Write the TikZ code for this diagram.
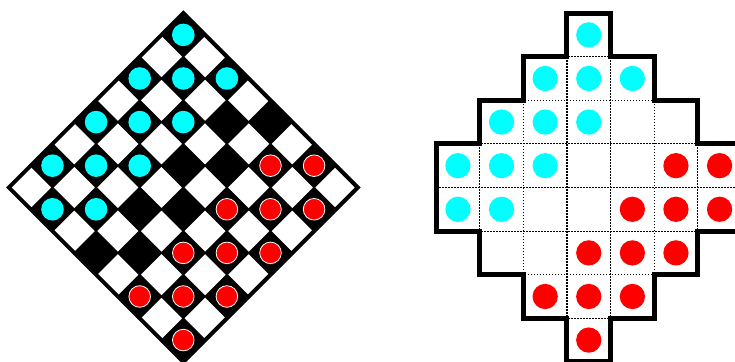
\documentclass[tikz,border=0pt]{standalone}
\usepackage{tikz}
\usetikzlibrary{calc}
\definecolor{piececyan}{RGB}{0,255,255}
\definecolor{piecered}{RGB}{255,0,0}

\begin{document}
\begin{tikzpicture}[x=43.6pt, y=43.6pt,
  lightcell/.style={fill=white, draw=black, line width=1.5pt},
  bluepiece/.style={fill=piececyan},
  redpiece/.style={fill=piecered, draw=white, line width=0.8pt},
  gridline/.style={line width=1.1pt, dash pattern=on 1.6pt off 1.4pt},
  outline/.style={line width=5pt, line join=miter}]
  \useasboundingbox (-4.204,-4.002) rectangle (12.654,4.300);
  % Board turned on its corner
  \begin{scope}[rotate=45, scale=0.70711, shift={(-4,-4)}]
    \fill[black] (0,0) rectangle (8,8);
    \foreach \i in {0,...,7}
      \foreach \j in {0,...,7}
        {\ifodd\numexpr\i+\j\relax \draw[lightcell] (\i,\j) rectangle ++(1,1);\fi}
    \draw[line width=4pt] (0,0) rectangle (8,8);
    % Pieces on the dark squares
    \foreach \j in {5,6,7}
      \foreach \i in {0,...,7}
        {\ifodd\numexpr\i+\j\relax\else \fill[bluepiece] (\i+0.5,\j+0.5) circle (0.366);\fi}
    \foreach \j in {0,1,2}
      \foreach \i in {0,...,7}
        {\ifodd\numexpr\i+\j\relax\else \filldraw[redpiece] (\i+0.5,\j+0.5) circle (0.35);\fi}
  \end{scope}
  % Stepped grid, dotted inside
  \foreach \y/\a/\b in {3/7.8/10.8, 2/6.8/11.8, 1/5.8/12.8, 0/5.8/12.8,
      -1/5.8/12.8, -2/6.8/11.8, -3/7.8/10.8}
    \draw[gridline] (\a,\y) -- (\b,\y);
  \foreach \x/\a in {6.8/2, 7.8/3, 8.8/4, 9.8/4, 10.8/3, 11.8/2}
    \draw[gridline] (\x,-\a) -- (\x,\a);
  \draw[outline] (8.8,4) -- (9.8,4) -- (9.8,3) -- (10.8,3) -- (10.8,2)
    -- (11.8,2) -- (11.8,1) -- (12.8,1) -- (12.8,-1) -- (11.8,-1)
    -- (11.8,-2) -- (10.8,-2) -- (10.8,-3) -- (9.8,-3) -- (9.8,-4)
    -- (8.8,-4) -- (8.8,-3) -- (7.8,-3) -- (7.8,-2) -- (6.8,-2)
    -- (6.8,-1) -- (5.8,-1) -- (5.8,1) -- (6.8,1) -- (6.8,2)
    -- (7.8,2) -- (7.8,3) -- (8.8,3) -- cycle;
  % Pieces in the grid (row/column)
  \foreach \r/\c in {0/3, 1/2, 1/3, 1/4, 2/1, 2/2, 2/3, 3/0, 3/1, 3/2, 4/0, 4/1}
    \fill[bluepiece] (6.3+\c,3.5-\r) circle (0.29);
  \foreach \r/\c in {3/5, 3/6, 4/4, 4/5, 4/6, 5/3, 5/4, 5/5, 6/2, 6/3, 6/4, 7/3}
    \fill[piecered] (6.3+\c,3.5-\r) circle (0.29);
\end{tikzpicture}
\end{document}
